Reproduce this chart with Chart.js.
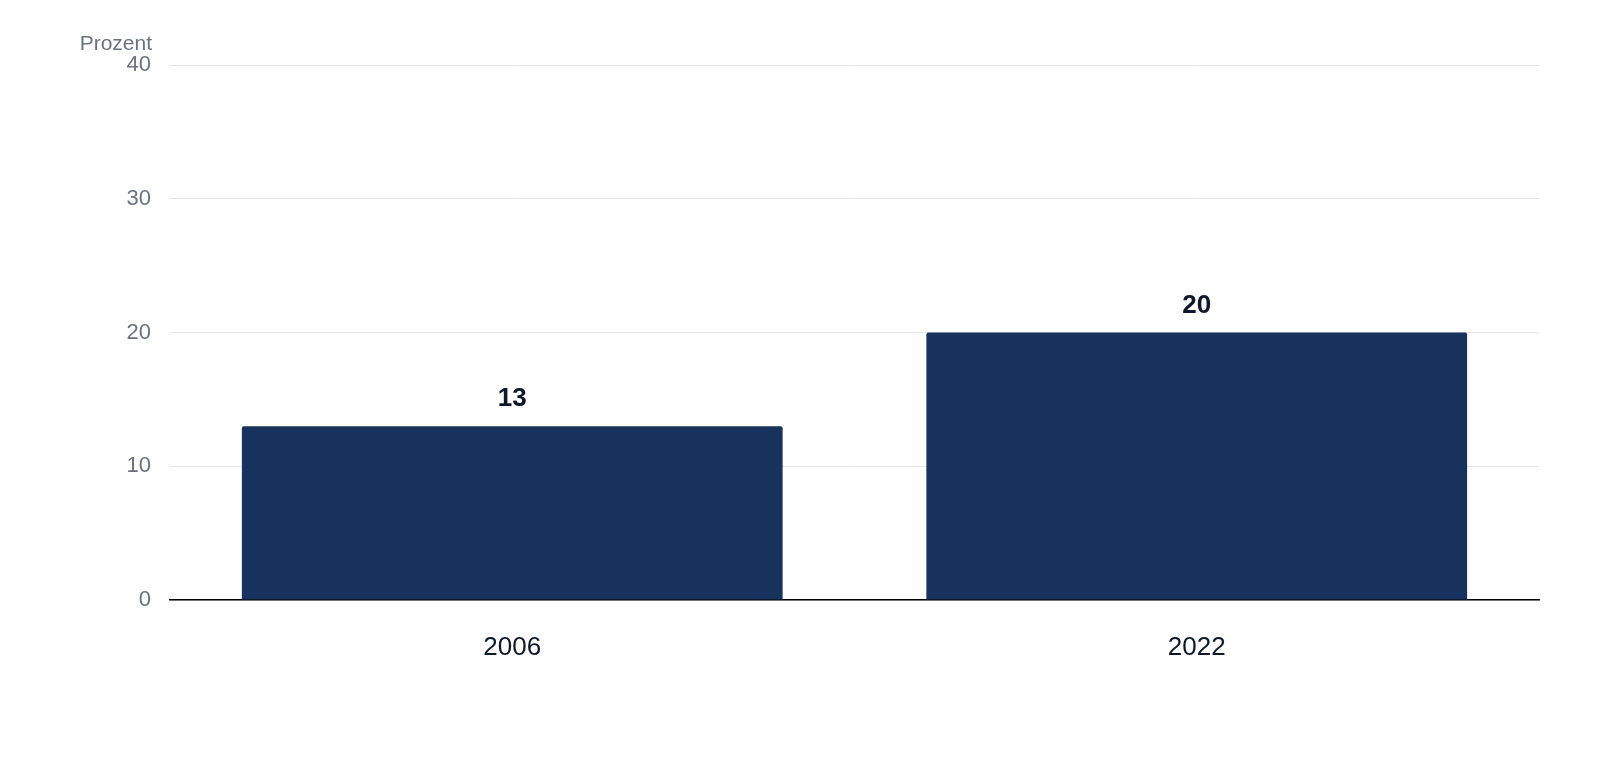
<!DOCTYPE html>
<html><head><meta charset="utf-8">
<script src="https://cdn.jsdelivr.net/npm/chart.js@4"></script>
<style>html,body{margin:0;background:#fff}#w{width:1600px;height:760px}</style>
</head><body><div id="w"><canvas id="c"></canvas></div>
<script>
const categories = ["2006", "2022"];
const values = [13, 20];
const yTicks = [0, 10, 20, 30, 40];
const yTitle = "Prozent";
const FONT = "Helvetica, Arial, 'Liberation Sans', sans-serif";

const labelPlugin = {
  id: 'lbl',
  afterDatasetsDraw(chart) {
    const ctx = chart.ctx;
    const meta = chart.getDatasetMeta(0);
    ctx.save();
    ctx.font = "bold 26px " + FONT;
    ctx.fillStyle = "#0f172a";
    ctx.textAlign = "center";
    ctx.textBaseline = "bottom";
    meta.data.forEach((b, i) => ctx.fillText(String(values[i]), b.x, b.y - 14));
    ctx.font = "21px " + FONT;
    ctx.fillStyle = "#6b7280";
    ctx.textAlign = "right";
    ctx.textBaseline = "middle";
    ctx.fillText(yTitle, 152, 44);
    ctx.restore();
  }
};

new Chart(document.getElementById('c'), {
  type: 'bar',
  data: { labels: categories, datasets: [{ data: values, backgroundColor: '#17325c', borderRadius: 2, borderSkipped: 'bottom', barPercentage: 0.79, categoryPercentage: 1 }] },
  options: {
    responsive: true, maintainAspectRatio: false, animation: false,
    layout: { padding: { top: 65, right: 61, left: 0, bottom: 0 } },
    plugins: { legend: { display: false }, tooltip: { enabled: false } },
    scales: {
      x: {
        grid: { display: false },
        border: { color: '#000', width: 1.5 },
        ticks: { color: '#0f172a', font: { size: 26, family: FONT }, padding: 24 },
        afterFit(s) { s.height = 160; }
      },
      y: {
        min: 0, max: 40,
        afterBuildTicks(s) { s.ticks = yTicks.map(v => ({ value: v })); },
        grid: { color: '#e5e7eb', drawTicks: false },
        border: { display: false },
        ticks: { color: '#6b7280', font: { size: 22, family: FONT }, padding: 19 },
        afterFit(s) { s.width = 170; }
      }
    }
  },
  plugins: [labelPlugin]
});
</script></body></html>
